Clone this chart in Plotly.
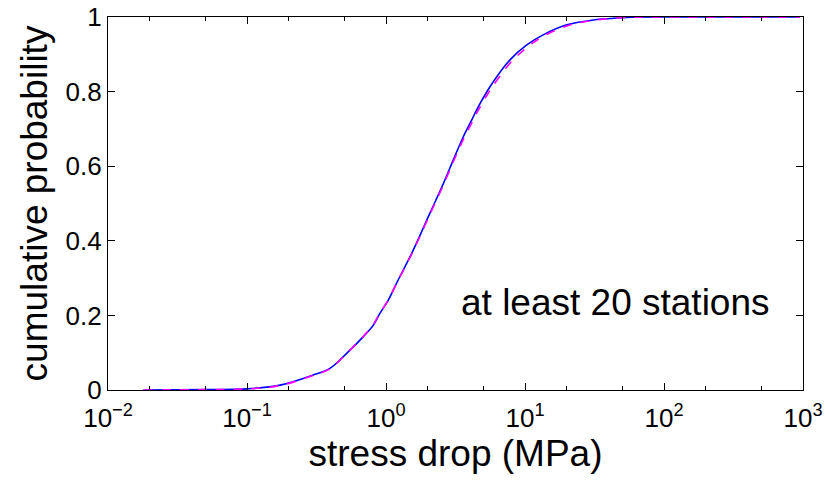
import plotly.graph_objects as go

# blue (solid) empirical CDF
stress_blue = [0.018, 0.05, 0.1, 0.173, 0.299, 0.395, 0.521, 0.687, 0.811, 0.906, 1.039, 1.19, 1.57, 2.07,
               2.59, 3.05, 3.60, 4.14, 4.49, 5.60, 7.80, 10.3, 13.5, 20.0, 31, 41, 54, 100, 300, 950]
prob_blue = [0.0, 0.001, 0.003, 0.013, 0.040, 0.058, 0.098, 0.143, 0.174, 0.206, 0.241, 0.286, 0.375, 0.474,
             0.554, 0.617, 0.679, 0.724, 0.751, 0.813, 0.885, 0.925, 0.952, 0.979, 0.992, 0.996, 0.999, 1.0, 1.0, 1.0]

# magenta (dashed) fitted CDF
stress_mag = [0.018, 0.05, 0.1, 0.173, 0.299, 0.395, 0.521, 0.687, 0.811, 0.906, 1.039, 1.19, 1.57, 2.07,
              2.59, 3.05, 3.60, 4.14, 4.49, 5.60, 7.80, 10.3, 13.5, 20.0, 31, 41, 54, 100, 300, 950]
prob_mag = [0.0, 0.001, 0.003, 0.012, 0.039, 0.057, 0.098, 0.144, 0.176, 0.207, 0.241, 0.285, 0.373, 0.471,
            0.550, 0.612, 0.672, 0.716, 0.742, 0.803, 0.876, 0.918, 0.948, 0.976, 0.991, 0.996, 0.999, 1.0, 1.0, 1.0]

xtick_vals = [0.01, 0.1, 1, 10, 100, 1000]
xtick_text = ["10<sup>−2</sup>", "10<sup>−1</sup>", "10<sup>0</sup>", "10<sup>1</sup>", "10<sup>2</sup>", "10<sup>3</sup>"]
ytick_vals = [0, 0.2, 0.4, 0.6, 0.8, 1]
ytick_text = ["0", "0.2", "0.4", "0.6", "0.8", "1"]

FONT = "Liberation Sans, Arial, sans-serif"

fig = go.Figure()
fig.add_trace(go.Scatter(x=stress_blue, y=prob_blue, mode="lines", line_shape="spline",
                         line=dict(color="#0000ff", width=1.6), showlegend=False))
fig.add_trace(go.Scatter(x=stress_mag, y=prob_mag, mode="lines", line_shape="spline",
                         line=dict(color="#ff00ff", width=1.6, dash="dash"), showlegend=False))

fig.add_annotation(x=(772 - 108) / (803 - 108), y=(390 - 302) / (390 - 17), xref="paper", yref="paper",
                   text="at least 20 stations", showarrow=False, xanchor="right", yanchor="middle",
                   font=dict(family=FONT, size=37, color="black"))

fig.update_layout(
    width=825, height=480,
    margin=dict(l=108, r=22, t=17, b=90),
    paper_bgcolor="white", plot_bgcolor="white",
    font=dict(family=FONT, color="black"),
    xaxis=dict(type="log", range=[-2, 3], tickvals=xtick_vals, ticktext=xtick_text, automargin=False,
               ticks="inside", ticklen=7, tickwidth=1, tickcolor="black",
               showline=True, linecolor="black", linewidth=1.2, mirror="allticks",
               showgrid=False, zeroline=False, ticklabelstandoff=5,
               tickfont=dict(family=FONT, size=26),
               minor=dict(ticks="inside", ticklen=4, tickcolor="black", showgrid=False),
               title=dict(text="stress drop (MPa)", font=dict(family=FONT, size=37), standoff=0)),
    yaxis=dict(range=[0, 1], tickvals=ytick_vals, ticktext=ytick_text, automargin=False,
               ticks="inside", ticklen=7, tickwidth=1, tickcolor="black",
               showline=True, linecolor="black", linewidth=1.2, mirror="allticks",
               showgrid=False, zeroline=False,
               tickfont=dict(family=FONT, size=26),
               title=dict(text="cumulative probability", font=dict(family=FONT, size=37), standoff=6)),
)

fig.write_html("out.html")
